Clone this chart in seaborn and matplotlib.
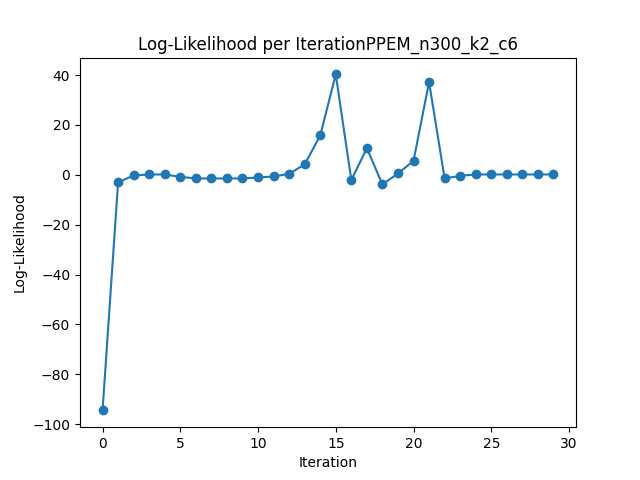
import matplotlib
matplotlib.use("Agg")
import matplotlib.pyplot as plt
import numpy as np
import pandas as pd
import seaborn as sns

# ==== data ====
iterations = list(range(30))
log_likelihood = [
    -94.5, -3.0, -0.25, 0.15, 0.15, -0.8, -1.45, -1.45, -1.45, -1.45,
    -1.05, -0.65, 0.4, 4.2, 15.8, 40.3, -2.1, 10.7, -3.85, 0.55,
    5.6, 37.2, -1.45, -0.4, 0.15, 0.15, 0.15, 0.15, 0.15, 0.15,
]

df = pd.DataFrame({"Iteration": iterations, "Log-Likelihood": log_likelihood})

# ==== the plot ====
fig, ax = plt.subplots(figsize=(6.4, 4.8), dpi=100)
sns.lineplot(
    data=df,
    x="Iteration",
    y="Log-Likelihood",
    marker="o",
    markersize=6,
    markeredgewidth=1,
    markeredgecolor="#1f77b4",
    color="#1f77b4",
    linewidth=1.5,
    ax=ax,
)
ax.set_title("Log-Likelihood per IterationPPEM_n300_k2_c6")
ax.set_xlabel("Iteration")
ax.set_ylabel("Log-Likelihood")

fig.savefig("out.png", dpi=100)
